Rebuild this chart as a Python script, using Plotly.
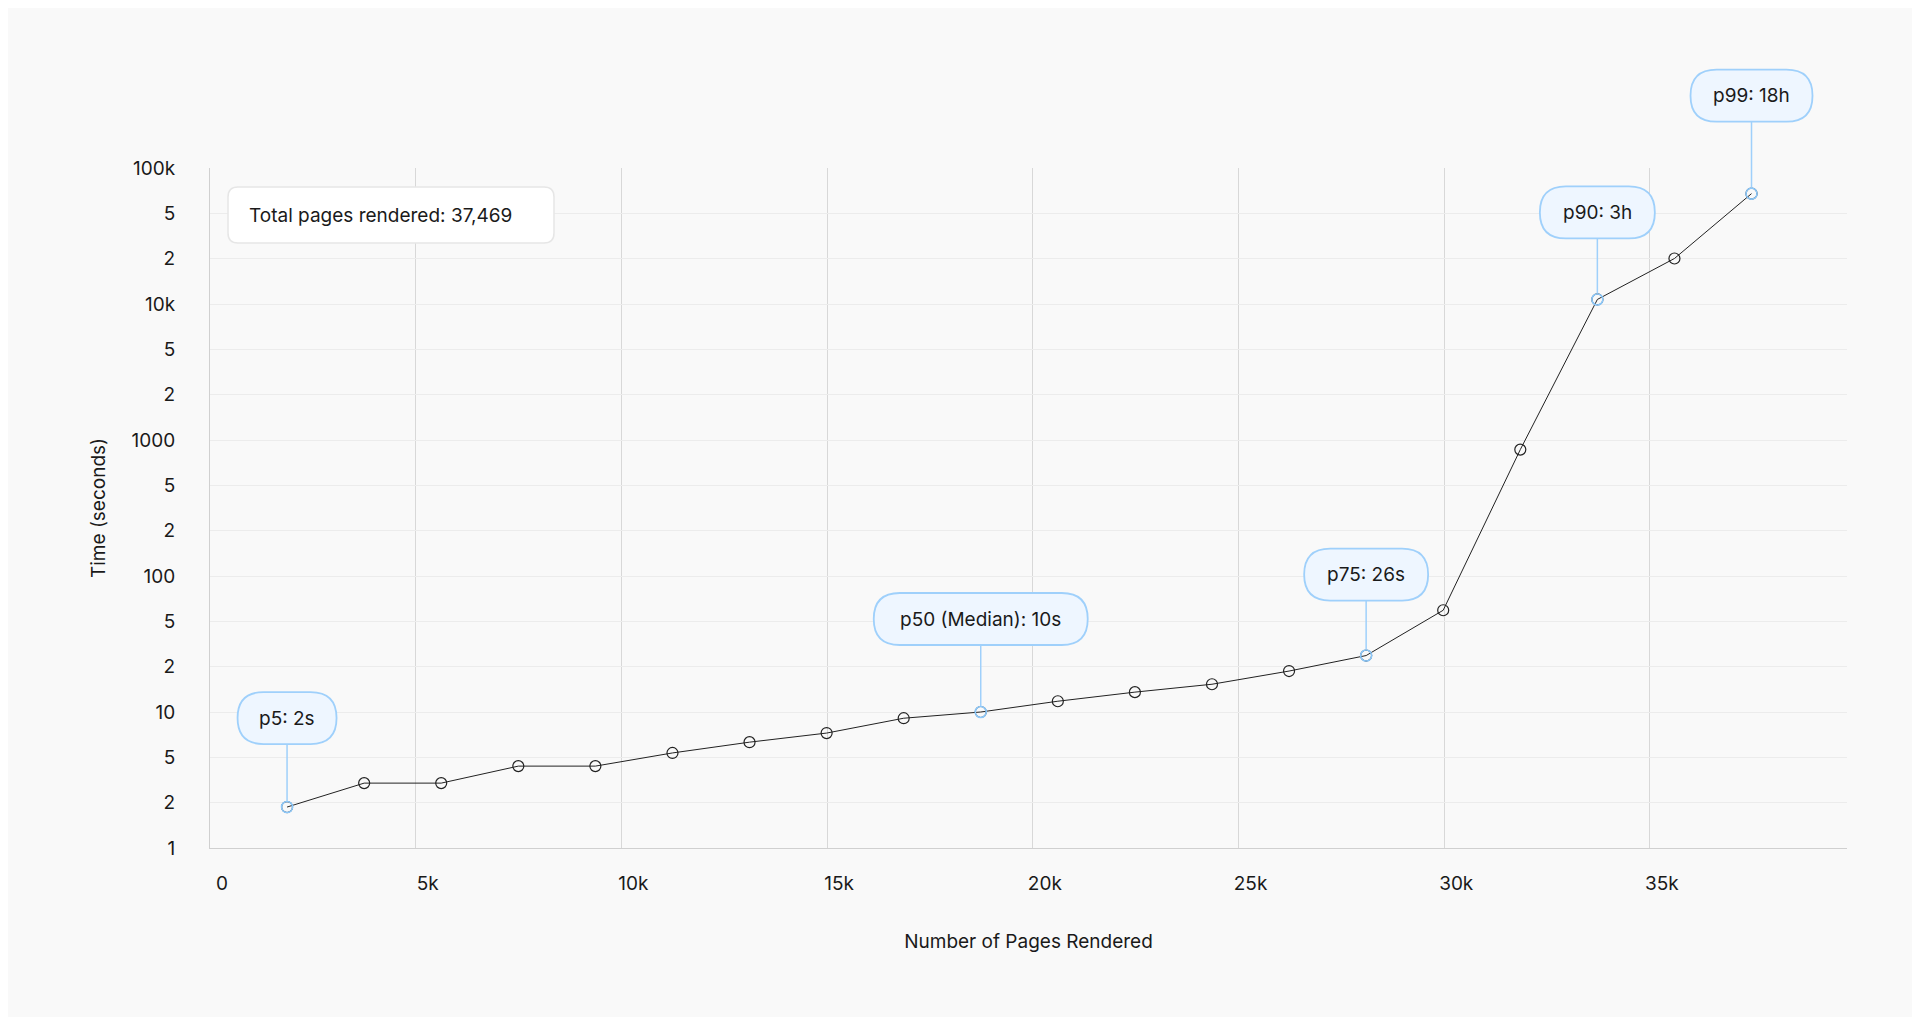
import math
import plotly.graph_objects as go

TOTAL = 37469
pages = [round(TOTAL * k / 20) for k in range(1, 21)]
seconds = [2, 3, 3, 4, 4, 5, 6, 7, 9, 10, 12, 14, 16, 20, 26, 56, 850, 10800, 21600, 64800]
highlight_idx = [0, 9, 14, 17, 19]
highlight_text = ["p5: 2s", "p50 (Median): 10s", "p75: 26s", "p90: 3h", "p99: 18h"]
ytick_vals = [10 ** (k / 3) for k in range(16)]
ytick_text = ["1", "2", "5", "10", "2", "5", "100", "2", "5", "1000", "2", "5", "10k", "2", "5", "100k"]
xtick_vals = [0, 5000, 10000, 15000, 20000, 25000, 30000, 35000]
xtick_text = ["0", "5k", "10k", "15k", "20k", "25k", "30k", "35k"]

X_RANGE = [0, 39790]
Y_DECADES = [0, 5]

# style: per-label box width (px) and lift (px)
box_w = [99, 214, 124, 115, 122]
box_lift = [89, 93, 81, 87, 98]
BOX_H = 52
FONT = "Inter, Roboto, sans-serif"
BLUE = "#9fd0fb"

fig = go.Figure()
fig.add_trace(go.Scatter(
    x=pages, y=seconds, mode="lines+markers",
    line=dict(color="#222", width=1),
    marker=dict(symbol="circle-open", size=11, color="#222", line=dict(width=1.2)),
    hoverinfo="skip"))
fig.add_trace(go.Scatter(
    x=[pages[i] for i in highlight_idx], y=[seconds[i] for i in highlight_idx], mode="markers",
    marker=dict(symbol="circle-open", size=11, color="#8cc8fa", line=dict(width=1.6)),
    hoverinfo="skip"))


def pill(w, b, t):
    r = (t - b) / 2
    m = (t + b) / 2
    x0, x1 = -w / 2, w / 2
    return (f"M{x0 + r},{b} L{x1 - r},{b} Q{x1},{b} {x1},{m} Q{x1},{t} {x1 - r},{t} "
            f"L{x0 + r},{t} Q{x0},{t} {x0},{m} Q{x0},{b} {x0 + r},{b} Z")


shapes = []
annotations = []
for j, i in enumerate(highlight_idx):
    xv, yv = pages[i], seconds[i]
    px = (xv - X_RANGE[0]) / (X_RANGE[1] - X_RANGE[0])
    py = (math.log10(yv) - Y_DECADES[0]) / (Y_DECADES[1] - Y_DECADES[0])
    lift = box_lift[j]
    b, t = lift - BOX_H / 2, lift + BOX_H / 2
    shapes.append(dict(type="path", xref="paper", yref="paper", xsizemode="pixel", ysizemode="pixel",
                       xanchor=px, yanchor=py, path=f"M0,6 L0,{b}",
                       line=dict(color=BLUE, width=1.5)))
    shapes.append(dict(type="path", xref="paper", yref="paper", xsizemode="pixel", ysizemode="pixel",
                       xanchor=px, yanchor=py, path=pill(box_w[j], b, t),
                       fillcolor="#eef6ff", line=dict(color=BLUE, width=1.8)))
    annotations.append(dict(x=xv, y=math.log10(yv), xref="x", yref="y", text=highlight_text[j],
                            showarrow=False, yshift=lift, font=dict(family=FONT, size=19, color="#1a1a1a")))

# total box
bw, bh, rr = 326, 56, 10
L, T = 18, -19
shapes.append(dict(type="path", xref="paper", yref="paper", xsizemode="pixel", ysizemode="pixel",
                   xanchor=0, yanchor=1,
                   path=(f"M{L + rr},{T} L{L + bw - rr},{T} Q{L + bw},{T} {L + bw},{T - rr} "
                         f"L{L + bw},{T - bh + rr} Q{L + bw},{T - bh} {L + bw - rr},{T - bh} "
                         f"L{L + rr},{T - bh} Q{L},{T - bh} {L},{T - bh + rr} "
                         f"L{L},{T - rr} Q{L},{T} {L + rr},{T} Z"),
                   fillcolor="white", line=dict(color="#e6e6e6", width=1.5)))
annotations.append(dict(x=0, y=1, xref="paper", yref="paper", xanchor="left", yanchor="middle",
                        xshift=37, yshift=-47, showarrow=False,
                        text=f"Total pages rendered: {TOTAL:,}",
                        font=dict(family=FONT, size=19, color="#1a1a1a")))

fig.update_layout(
    width=1920, height=1017, showlegend=False,
    paper_bgcolor="#f9f9f9", plot_bgcolor="#f9f9f9",
    margin=dict(l=202, r=81, t=160, b=177),
    font=dict(family=FONT, size=19, color="#1a1a1a"),
    shapes=shapes, annotations=annotations,
    xaxis=dict(range=X_RANGE, tickvals=xtick_vals, ticktext=xtick_text,
               showgrid=True, gridcolor="#d8d8d8", gridwidth=1, zeroline=False,
               showline=True, linecolor="#d0d0d0", ticks="", ticklabelshift=12, ticklabelstandoff=18,
               title=dict(text="Number of Pages Rendered", standoff=40, font=dict(size=19))),
    yaxis=dict(type="log", range=Y_DECADES, tickvals=ytick_vals, ticktext=ytick_text,
               showgrid=True, gridcolor="#ececec", gridwidth=1, zeroline=False,
               showline=True, linecolor="#d0d0d0", ticks="", ticklabelstandoff=30,
               title=dict(text="Time (seconds)", standoff=20, font=dict(size=19))),
)
fig.write_html("out.html")
